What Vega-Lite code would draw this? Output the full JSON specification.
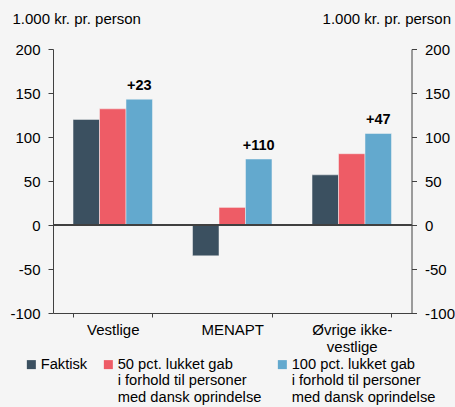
{
  "$schema": "https://vega.github.io/schema/vega-lite/v6.json",
  "width": 358.5,
  "height": 264,
  "autosize": {"type": "none"},
  "padding": {"left": 53, "top": 49, "right": 43.5, "bottom": 94},
  "background": "#f5f5f5",
  "config": {
    "font": "Liberation Sans",
    "view": {"stroke": null},
    "axis": {"grid": false, "labelColor": "#000000", "titleColor": "#000000", "labelFontSize": 15, "titleFontSize": 15, "titleFontWeight": "normal", "domainColor": "#404040", "tickColor": "#404040"}
  },
  "data": {
    "values": [
      {"category": "Vestlige", "series": "Faktisk", "value": 120, "label": ""},
      {"category": "Vestlige", "series": "50 pct. lukket gab|i forhold til personer|med dansk oprindelse", "value": 132, "label": ""},
      {"category": "Vestlige", "series": "100 pct. lukket gab|i forhold til personer|med dansk oprindelse", "value": 143, "label": "+23"},
      {"category": "MENAPT", "series": "Faktisk", "value": -35, "label": ""},
      {"category": "MENAPT", "series": "50 pct. lukket gab|i forhold til personer|med dansk oprindelse", "value": 20, "label": ""},
      {"category": "MENAPT", "series": "100 pct. lukket gab|i forhold til personer|med dansk oprindelse", "value": 75, "label": "+110"},
      {"category": "Øvrige ikke-|vestlige", "series": "Faktisk", "value": 57, "label": ""},
      {"category": "Øvrige ikke-|vestlige", "series": "50 pct. lukket gab|i forhold til personer|med dansk oprindelse", "value": 81, "label": ""},
      {"category": "Øvrige ikke-|vestlige", "series": "100 pct. lukket gab|i forhold til personer|med dansk oprindelse", "value": 104, "label": "+47"}
    ]
  },
  "layer": [
    {
      "mark": {"type": "bar", "stroke": "#f5f5f5", "strokeWidth": 0.5},
      "encoding": {
        "x": {"field": "category", "type": "nominal", "sort": ["Vestlige", "MENAPT", "Øvrige ikke-|vestlige"],
          "scale": {"paddingInner": 0.335, "paddingOuter": 0.1675},
          "axis": {"title": null, "labelAngle": 0, "tickBand": "extent", "labelExpr": "split(datum.label, '|')", "tickSize": 4, "labelPadding": 5, "labelLineHeight": 17, "labelBaseline": "top"}},
        "xOffset": {"field": "series", "type": "nominal", "sort": ["Faktisk", "50 pct. lukket gab|i forhold til personer|med dansk oprindelse", "100 pct. lukket gab|i forhold til personer|med dansk oprindelse"], "scale": {"paddingInner": 0, "paddingOuter": 0}},
        "y": {"field": "value", "type": "quantitative", "scale": {"domain": [-100, 200]},
          "axis": {"orient": "left", "values": [-100, -50, 0, 50, 100, 150, 200], "tickSize": 5, "labelPadding": 8, "labelExpr": "replace(datum.label, '−', '-')",
            "title": "1.000 kr. pr. person", "titleAngle": 0, "titleX": -41, "titleY": -26, "titleAlign": "left", "titleBaseline": "alphabetic"}},
        "color": {"field": "series", "type": "nominal", "sort": ["Faktisk", "50 pct. lukket gab|i forhold til personer|med dansk oprindelse", "100 pct. lukket gab|i forhold til personer|med dansk oprindelse"],
          "scale": {"range": ["#3b5060", "#ee5c66", "#63a9ce"]},
          "legend": {"title": null, "orient": "none", "legendX": -29, "legendY": 308, "direction": "horizontal", "columns": 3, "columnPadding": 13, "padding": 0,
            "symbolType": "square", "symbolSize": 81, "symbolStrokeWidth": 0, "labelOffset": 2, "labelFontSize": 14.7, "labelColor": "#000000", "labelLimit": 0,
            "labelExpr": "datum.label == 'Faktisk' ? split('Faktisk||', '|') : split(datum.label, '|')", "labelBaseline": "middle", "labelLineHeight": 16.4}}
      }
    },
    {
      "mark": {"type": "rule", "color": "#404040", "strokeWidth": 1},
      "encoding": {"y": {"datum": 0, "type": "quantitative", "scale": {"domain": [-100, 200]}, "axis": null}}
    },
    {
      "transform": [{"filter": "datum.label != ''"}],
      "mark": {"type": "text", "fontWeight": "bold", "fontSize": 14.5, "baseline": "alphabetic", "dy": -9, "color": "#000000"},
      "encoding": {
        "x": {"field": "category", "type": "nominal", "sort": ["Vestlige", "MENAPT", "Øvrige ikke-|vestlige"]},
        "xOffset": {"field": "series", "type": "nominal", "sort": ["Faktisk", "50 pct. lukket gab|i forhold til personer|med dansk oprindelse", "100 pct. lukket gab|i forhold til personer|med dansk oprindelse"]},
        "y": {"field": "value", "type": "quantitative", "scale": {"domain": [-100, 200]},
          "axis": {"orient": "right", "values": [-100, -50, 0, 50, 100, 150, 200], "tickSize": 5, "labelPadding": 8, "labelExpr": "replace(datum.label, '−', '-')",
            "title": "1.000 kr. pr. person", "titleAngle": 0, "titleX": 39, "titleY": -26, "titleAlign": "right", "titleBaseline": "alphabetic"}},
        "text": {"field": "label"}
      }
    }
  ],
  "resolve": {"scale": {"y": "independent"}, "axis": {"y": "independent"}}
}
